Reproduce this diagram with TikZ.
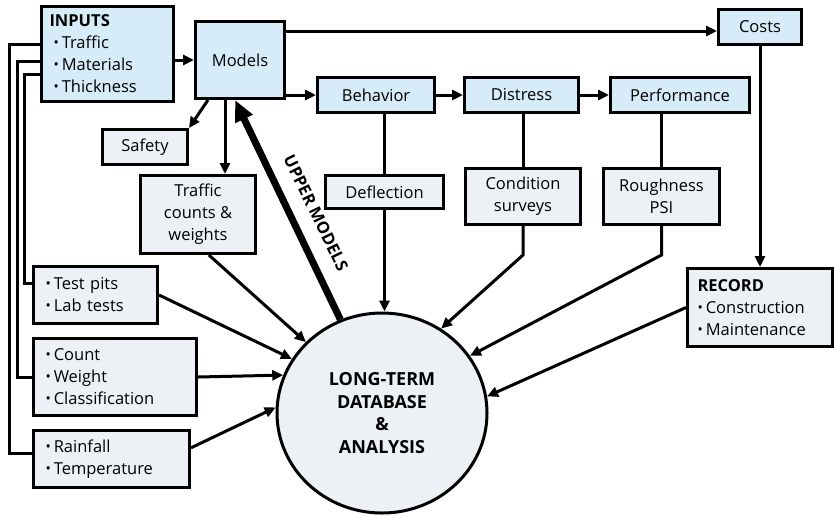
\documentclass[tikz,border=0pt]{standalone}
\usepackage{fontspec}
\setmainfont{Open Sans}
\usetikzlibrary{arrows.meta,calc,shapes.geometric}
\definecolor{boxblue}{RGB}{214,236,248}
\definecolor{boxgray}{RGB}{237,241,245}
\newcommand{\bul}{\raisebox{0.15ex}{\scalebox{0.85}{•}}\hspace{3pt}}

\begin{document}
\begin{tikzpicture}[x=1pt,y=1pt,yscale=-1,
    box/.style={draw,line width=3pt,anchor=north west,inner sep=0pt,
      font=\fontsize{16.5}{22}\selectfont,align=center},
    bluebox/.style={box,fill=boxblue},
    graybox/.style={box,fill=boxgray},
    listbox/.style={graybox,align=left,inner xsep=#1},
    arr/.style={line width=3pt,-{Triangle[length=11pt,width=10pt]}},
    link/.style={line width=3pt},
    uparr/.style={line width=7pt,-{Triangle[length=21pt,width=18pt]}}
  ]
  \useasboundingbox (0,0) rectangle (834,515);

  % Upper row
  \node[bluebox,align=left,inner xsep=8pt,text width=116pt,minimum height=95pt] (inputs) at (40,5)
    {\textbf{INPUTS}\\\hspace*{4pt}\bul Traffic\\\hspace*{4pt}\bul Materials\\\hspace*{4pt}\bul Thickness};
  \node[bluebox,minimum width=89pt,minimum height=77pt] (models) at (194,20) {Models};
  \node[bluebox,minimum width=83pt,minimum height=35pt] (costs) at (717,8) {Costs};
  \node[bluebox,minimum width=117pt,minimum height=35pt] (behavior) at (316,76) {Behavior};
  \node[bluebox,minimum width=114pt,minimum height=35pt] (distress) at (463,76) {Distress};
  \node[bluebox,minimum width=139pt,minimum height=35pt] (perf) at (609,76) {Performance};

  % Measured data
  \node[graybox,minimum width=85pt,minimum height=35pt] (safety) at (101,128) {Safety};
  \node[graybox,minimum width=115pt,minimum height=78pt] (traffic) at (139,174) {Traffic\\counts \&\\weights};
  \node[graybox,minimum width=118pt,minimum height=33pt] (deflection) at (324,174) {Deflection};
  \node[graybox,minimum width=115pt,minimum height=56pt] (condition) at (464,167) {Condition\\surveys};
  \node[graybox,minimum width=116pt,minimum height=56pt] (rough) at (602,167) {Roughness\\PSI};
  \node[listbox=10pt,text width=125pt,minimum height=78pt] (record) at (686,267)
    {\textbf{RECORD}\\\bul Construction\\\bul Maintenance};
  \node[listbox=12pt,text width=100pt,minimum height=57pt] (test) at (32,265)
    {\bul Test pits\\\bul Lab tests};
  \node[listbox=12pt,text width=139pt,minimum height=77pt] (count) at (32,337)
    {\bul Count\\\bul Weight\\\bul Classification};
  \node[listbox=12pt,text width=132pt,minimum height=57pt] (rain) at (32,429)
    {\bul Rainfall\\\bul Temperature};

  % Database
  \node[ellipse,draw,line width=3pt,fill=boxgray,minimum width=210pt,minimum height=200pt,
    font=\bfseries\fontsize{18}{22.5}\selectfont,align=center] (db) at (382,413)
    {LONG-TERM\\DATABASE\\\&\\ANALYSIS};

  \coordinate (mc) at ($(models.north east)+(0,11)$);
  \coordinate (ms) at ($(models.south west)+(14,0)$);
  \coordinate (mt) at ($(models.south west)+(31,0)$);
  \coordinate (mu) at ($(models.south west)+(41,0)$);
  \coordinate (fa) at ($(inputs.north west)+(0,39)$);
  \coordinate (fb) at ($(inputs.north west)+(0,56)$);
  \coordinate (fc) at ($(inputs.north west)+(0,69)$);

  % Arrows
  \draw[arr] (inputs.east |- models.west) -- (models.west);
  \draw[arr] (mc) -- (mc -| costs.west);
  \draw[arr] (models.east |- behavior.west) -- (behavior.west);
  \draw[arr] (behavior) -- (distress);
  \draw[arr] (distress) -- (perf);
  \draw[arr] (ms) -- (safety.north east);
  \draw[arr] (mt) -- (mt |- traffic.north);
  \draw[uparr] (db.114) -- (mu);
  \node[rotate=-64,inner sep=0pt,font=\bfseries\fontsize{16.5}{18}\selectfont] (upl) at (316,213) {UPPER MODELS};

  \draw[link] (behavior.south -| deflection.north) -- (deflection.north);
  \draw[arr] (deflection.south) -- (deflection.south |- db.north);
  \draw[link] (distress.south -| condition.north) -- (condition.north);
  \draw[arr] (condition.south) -- ++(0,29) -- (db.55);
  \draw[link] (perf.south -| rough.north) -- (rough.north);
  \draw[arr] (rough.south) -- ++(0,29) -- (db.33);
  \draw[arr] (costs.south -| record.north) -- (record.north);
  \draw[arr] (record.west) -- (db.9);

  \draw[arr] (traffic.-75) -- (db.137);
  \draw[arr] (test.east) -- (db.149);
  \draw[arr] (count.east) -- (db.159);
  \draw[arr] (rain.8) -- (db.177);

  % Feed lines from inputs
  \draw[link] (fa) -- ++(-31,0) |- (rain.176);
  \draw[link] (fb) -- ++(-23,0) |- (count.west);
  \draw[link] (fc) -- ++(-16,0) |- (test.170);
\end{tikzpicture}
\end{document}
